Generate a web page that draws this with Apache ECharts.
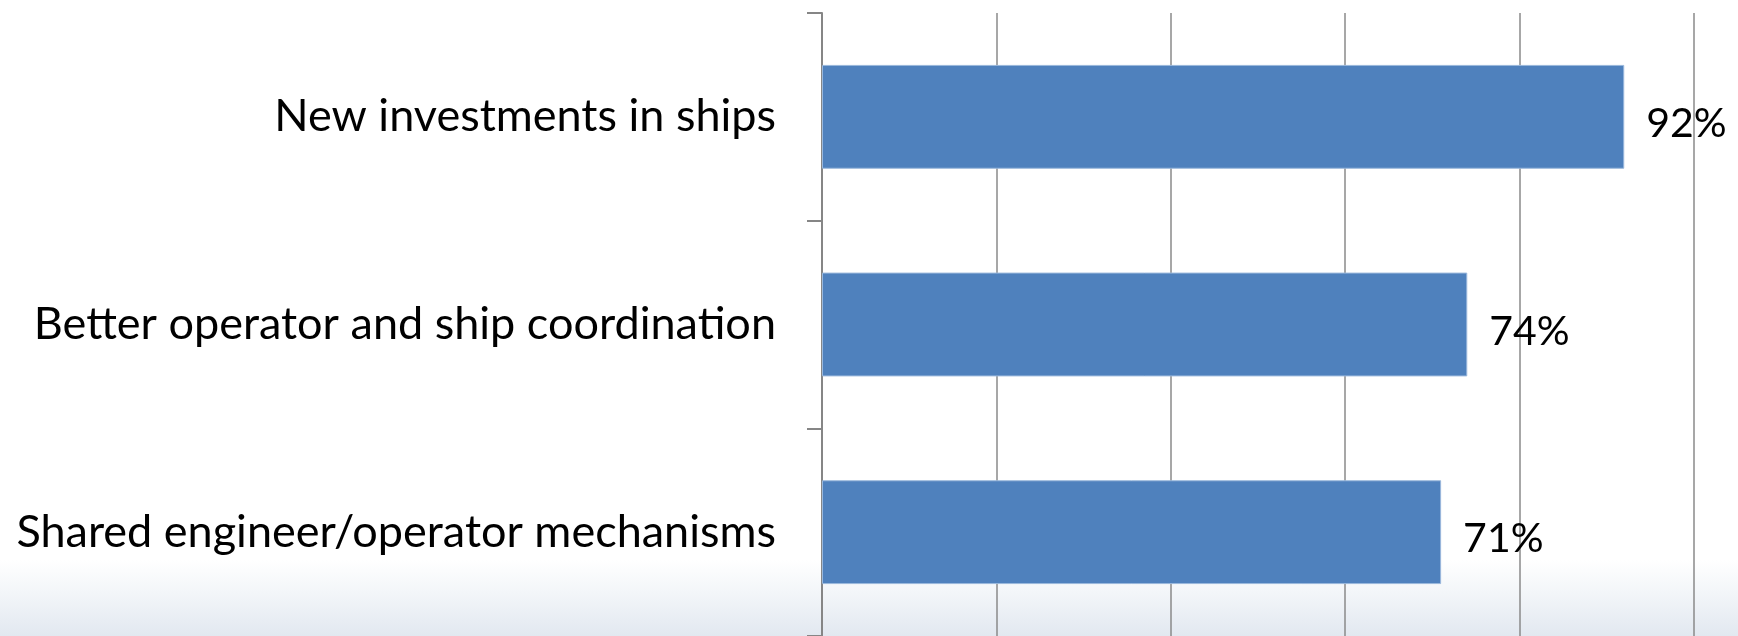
<!DOCTYPE html>
<html>
<head>
<meta charset="utf-8">
<script src="https://cdn.jsdelivr.net/npm/echarts@6/dist/echarts.min.js"></script>
<style>
  html, body { margin: 0; padding: 0; }
  body {
    width: 1738px; height: 636px; overflow: hidden;
    background: linear-gradient(to bottom, #ffffff 0px, #ffffff 560px, #f3f6f9 592px, #e2e8f0 636px);
  }
  #chart { width: 1738px; height: 636px; }
</style>
</head>
<body>
<div id="chart"></div>
<script>
// Share of respondents naming each improvement
const categories = [
  'New investments in ships',
  'Better operator and ship coordination',
  'Shared engineer/operator mechanisms'
];
const values = [92, 74, 71];
const axisTicks = [0, 20, 40, 60, 80, 100];

const FONT = 'Lato';
const chart = echarts.init(document.getElementById('chart'), null, { renderer: 'canvas' });

chart.setOption({
  backgroundColor: 'transparent',
  animation: false,
  grid: { left: 822, right: 44, top: 13, bottom: -3, containLabel: false },
  xAxis: {
    type: 'value',
    min: axisTicks[0],
    max: axisTicks[axisTicks.length - 1],
    interval: axisTicks[1] - axisTicks[0],
    axisLine: { show: false },
    axisTick: { show: false },
    axisLabel: { show: false },
    splitLine: { show: true, lineStyle: { color: '#8a8a8a', width: 1.5 } }
  },
  yAxis: {
    type: 'category',
    inverse: true,
    data: categories,
    axisLine: { show: true, lineStyle: { color: '#868686', width: 2 } },
    axisTick: { show: true, length: 15, lineStyle: { color: '#868686', width: 2 } },
    axisLabel: {
      margin: 46,
      fontFamily: FONT,
      fontSize: 45,
      color: '#000000'
    }
  },
  series: [{
    type: 'bar',
    data: values,
    barCategoryGap: '50%',
    itemStyle: { color: '#4f81bd', borderColor: '#9ab8dc', borderWidth: 1 },
    label: {
      show: true,
      position: 'right',
      distance: 22,
      offset: [0, 7],
      formatter: p => p.value + '%',
      fontFamily: FONT,
      fontSize: 41,
      color: '#000000'
    }
  }]
});
</script>
</body>
</html>
